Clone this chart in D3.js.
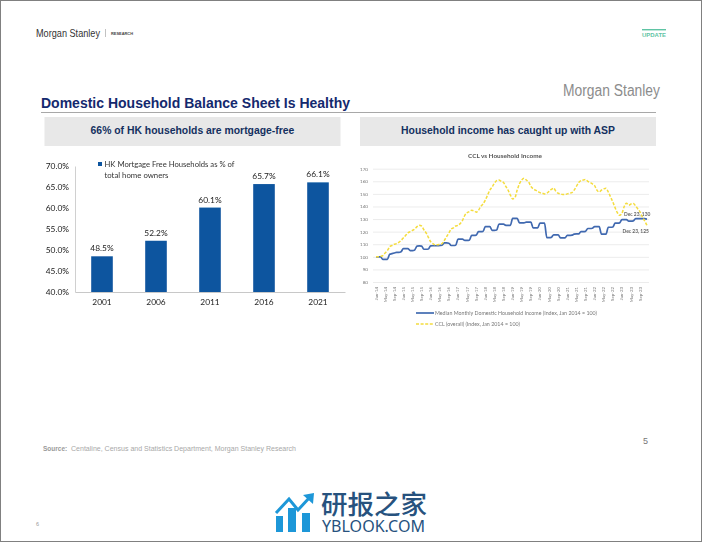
<!DOCTYPE html>
<html>
<head>
<meta charset="utf-8">
<script src="https://cdn.jsdelivr.net/npm/d3@7"></script>
<style>
  html, body { margin: 0; padding: 0; background: #fff; }
  svg { display: block; }
</style>
</head>
<body>
<div id="chart"></div>
<script>
  var outerWidth  = 702;
  var outerHeight = 542;

  // bar chart data
  var years = ["2001", "2006", "2011", "2016", "2021"];
  var mortgageFree = [48.5, 52.2, 60.1, 65.7, 66.1];
  var pctTicks = [40, 45, 50, 55, 60, 65, 70];

  // line chart data, monthly Jan-14 to Dec-23
  var monthLabels = ["Jan-14", "May-14", "Sep-14", "Jan-15", "May-15", "Sep-15", "Jan-16", "May-16", "Sep-16",
    "Jan-17", "May-17", "Sep-17", "Jan-18", "May-18", "Sep-18", "Jan-19", "May-19", "Sep-19", "Jan-20", "May-20",
    "Sep-20", "Jan-21", "May-21", "Sep-21", "Jan-22", "May-22", "Sep-22", "Jan-23", "May-23", "Sep-23"];
  var indexTicks = [80, 90, 100, 110, 120, 130, 140, 150, 160, 170];
  var income = [100, 100, 100, 98, 98, 98, 102, 102.5, 103, 103.5, 103.5, 104,
    106.5, 106.5, 106.5, 105, 105, 105.5, 108.5, 108.7, 108.5, 106, 106, 106.2,
    108.7, 108.8, 108.8, 108.8, 109, 109.2, 111, 111, 110.8, 109, 109, 109.2,
    114, 114, 114, 113, 113, 113.2, 117, 117, 117.2, 120, 120, 120.2,
    124, 124, 124, 121, 121, 121.3, 126, 126, 126, 125, 125, 125,
    130.5, 130.5, 130.5, 127, 127, 127, 127.5, 127.5, 127.5, 123, 123, 123,
    126.7, 126.7, 126.7, 115.3, 115.3, 115.5, 117.5, 117.5, 117.5, 115, 115, 115,
    117, 117, 117.2, 118, 118.2, 118.2, 120, 120, 120.2, 122.5, 122.5, 122.7,
    124, 124, 124, 118, 118, 118, 123.5, 123.5, 123.7, 126.7, 126.7, 127,
    129.6, 129.6, 129.5, 128.3, 128.3, 128.5, 130.4, 130.4, 130.4, 130.4, 130.3, 130];
  var ccl = [100, 100, 100.3, 101, 103, 105, 108, 109, 110, 110.5, 111.5, 113,
    115, 117, 119, 120, 121, 122, 124, 125, 124.5, 121.5, 119, 115.5,
    112, 110.5, 109.5, 109.5, 110, 110.5, 113, 116, 119, 122, 123, 124.5,
    125, 126.5, 129, 133, 135, 136, 137, 136.5, 135.5, 137, 140, 142,
    145, 149, 153, 155.5, 158.5, 160.5, 161, 160, 159, 156, 153, 149,
    146, 147, 153, 158, 161, 162.4, 161, 159.5, 156, 154, 153, 152,
    151, 150.5, 150, 150.5, 152, 153.5, 154.5, 152, 150.5, 150, 149.5, 149.5,
    150, 150.5, 151, 153, 156, 159, 160.5, 161, 161.4, 160, 159, 158,
    156.6, 153, 151.5, 153, 154, 154.5, 151.5, 147.5, 143.5, 139, 135, 133,
    134.5, 140, 142.5, 141, 142, 142.3, 140.5, 138, 135.5, 131.5, 128.5, 125];

  var sans = "'Liberation Sans', Arial, sans-serif";
  var narrow = "'Liberation Sans Narrow', 'Liberation Sans', sans-serif";
  var chartFont = "Lato, 'Open Sans', sans-serif";

  var svg = d3.select("#chart").append("svg")
    .attr("width",  outerWidth)
    .attr("height", outerHeight);

  // the two charts are pasted bitmaps in the original, so soften them a bit
  var blur = svg.append("defs").append("filter").attr("id", "soft");
  blur.append("feGaussianBlur").attr("stdDeviation", 0.35);

  function addText(parent, x, y, str, size, color, opts) {
    opts = opts || {};
    var t = parent.append("text")
      .attr("x", x).attr("y", y)
      .attr("font-family", opts.family || sans)
      .attr("font-size", size)
      .attr("fill", color)
      .attr("text-anchor", opts.anchor || "start")
      .attr("font-weight", opts.weight || "normal")
      .text(str);
    if (opts.len) t.attr("textLength", opts.len).attr("lengthAdjust", "spacingAndGlyphs");
    return t;
  }

  // page frame
  svg.append("rect").attr("x", 0.5).attr("y", 0.5)
    .attr("width", outerWidth - 1).attr("height", outerHeight - 1)
    .attr("fill", "#fff").attr("stroke", "#808080");

  // header
  addText(svg, 36, 36.5, "Morgan Stanley", 10.5, "#333", { family: narrow, len: 64 });
  svg.append("line").attr("x1", 105.5).attr("x2", 105.5).attr("y1", 29).attr("y2", 37).attr("stroke", "#999").attr("stroke-width", 0.6);
  addText(svg, 111, 35, "RESEARCH", 3.8, "#444", { weight: "bold", len: 22 });
  svg.append("rect").attr("x", 642).attr("y", 29).attr("width", 24).attr("height", 1.4).attr("fill", "#5fc4a4");
  addText(svg, 642, 37, "UPDATE", 6, "#5fc4a4", { weight: "bold", len: 24 });

  addText(svg, 563, 96, "Morgan Stanley", 16, "#8c8c8c", { family: narrow, len: 97 });
  addText(svg, 41, 108, "Domestic Household Balance Sheet Is Healthy", 14.2, "#14296e", { weight: "bold", len: 309 });
  svg.append("line").attr("x1", 41).attr("x2", 656).attr("y1", 112.5).attr("y2", 112.5).attr("stroke", "#a8a8a8");

  svg.append("rect").attr("x", 44.5).attr("y", 117).attr("width", 296).attr("height", 29).attr("fill", "#e8e8e8");
  svg.append("rect").attr("x", 360).attr("y", 117).attr("width", 296).attr("height", 29).attr("fill", "#e8e8e8");
  addText(svg, 192.5, 134, "66% of HK households are mortgage-free", 10.4, "#14305f", { weight: "bold", anchor: "middle" });
  addText(svg, 508, 134, "Household income has caught up with ASP", 10.4, "#14305f", { weight: "bold", anchor: "middle" });

  // --- bar chart ---
  var barG = svg.append("g").attr("filter", "url(#soft)");
  var xBar = d3.scaleBand().domain(years).range([75, 345]).paddingInner(0.6).paddingOuter(0.3);
  var yBar = d3.scaleLinear().domain([40, 70]).range([292, 166]);

  var yBarAxis = d3.axisLeft(yBar).tickValues(pctTicks)
    .tickFormat(function (d) { return d.toFixed(1) + "%"; }).tickSize(0).tickPadding(6);
  var yBarG = barG.append("g").attr("transform", "translate(75,0)").call(yBarAxis);
  yBarG.select(".domain").attr("stroke", "#d0d0d0");

  var xBarAxis = d3.axisBottom(xBar).tickSize(0).tickPadding(7);
  var xBarG = barG.append("g").attr("transform", "translate(0,292)").call(xBarAxis);
  xBarG.select(".domain").attr("stroke", "#c8c8c8");

  barG.selectAll("g text").attr("font-family", chartFont).attr("font-size", 8.4).attr("fill", "#222");

  barG.selectAll("rect.bar").data(mortgageFree).enter().append("rect")
    .attr("class", "bar")
    .attr("x", function (d, i) { return xBar(years[i]); })
    .attr("y", function (d) { return yBar(d); })
    .attr("width", xBar.bandwidth())
    .attr("height", function (d) { return yBar(40) - yBar(d); })
    .attr("fill", "#0b559f");

  barG.selectAll("text.val").data(mortgageFree).enter().append("text")
    .attr("class", "val")
    .attr("x", function (d, i) { return xBar(years[i]) + xBar.bandwidth() / 2; })
    .attr("y", function (d) { return yBar(d) - 5; })
    .attr("text-anchor", "middle")
    .attr("font-family", chartFont).attr("font-size", 8.4).attr("fill", "#222")
    .text(function (d) { return d.toFixed(1) + "%"; });

  barG.append("rect").attr("x", 98).attr("y", 162).attr("width", 4).attr("height", 4).attr("fill", "#0b559f");
  addText(barG, 104.5, 167, "HK Mortgage Free Households as % of", 8, "#333", { family: chartFont, len: 130 });
  addText(barG, 104.5, 177.5, "total home owners", 8, "#333", { family: chartFont, len: 64 });

  // --- line chart ---
  var lineG = svg.append("g").attr("filter", "url(#soft)");
  var xLine = d3.scaleLinear().domain([0, income.length - 1]).range([376, 647]);
  var yLine = d3.scaleLinear().domain([80, 170]).range([282, 168.7]);

  addText(lineG, 505, 158, "CCL vs Household Income", 6.4, "#555", { family: chartFont, anchor: "middle", weight: "bold" });

  var yLineAxis = d3.axisLeft(yLine).tickValues(indexTicks).tickSize(-(649 - 373)).tickPadding(5);
  var yLineG = lineG.append("g").attr("transform", "translate(373,0)").call(yLineAxis);
  yLineG.select(".domain").remove();
  yLineG.selectAll("line").attr("stroke", "#ececec").attr("stroke-width", 1);
  yLineG.selectAll("text").attr("font-family", chartFont).attr("font-size", 4.6).attr("fill", "#777");

  lineG.selectAll("text.month").data(monthLabels).enter().append("text")
    .attr("class", "month")
    .attr("transform", function (d, i) { return "translate(" + (xLine(i * 4) + 1.5) + ",287) rotate(-90)"; })
    .attr("text-anchor", "end")
    .attr("font-family", chartFont).attr("font-size", 4.4).attr("fill", "#777")
    .text(function (d) { return d; });

  var line = d3.line()
    .x(function (d, i) { return xLine(i); })
    .y(function (d) { return yLine(d); })
    .curve(d3.curveMonotoneX);

  lineG.append("path").datum(income).attr("d", line)
    .attr("fill", "none").attr("stroke", "#4169b0").attr("stroke-width", 1.7);
  lineG.append("path").datum(ccl).attr("d", line)
    .attr("fill", "none").attr("stroke", "#f4dc3c").attr("stroke-width", 1.5).attr("stroke-dasharray", "3,1.6");

  addText(lineG, 624, 216, "Dec 23, 130", 4.9, "#666", { family: chartFont, weight: "bold" });
  addText(lineG, 622.5, 233, "Dec 23, 125", 4.9, "#666", { family: chartFont, weight: "bold" });

  lineG.append("line").attr("x1", 416).attr("x2", 434).attr("y1", 313).attr("y2", 313).attr("stroke", "#4169b0").attr("stroke-width", 1.7);
  addText(lineG, 435, 315, "Median Monthly Domestic Household Income (Index, Jan 2014 = 100)", 4.8, "#777", { family: chartFont, len: 162 });
  lineG.append("line").attr("x1", 416).attr("x2", 434).attr("y1", 324).attr("y2", 324)
    .attr("stroke", "#f4dc3c").attr("stroke-width", 1.5).attr("stroke-dasharray", "3,1.6");
  addText(lineG, 435, 326, "CCL (overall) (Index, Jan 2014 = 100)", 4.8, "#777", { family: chartFont, len: 85 });

  // --- footer ---
  var src = addText(svg, 43, 451, "Source:", 6.5, "#9a9a9a", { weight: "bold" });
  addText(svg, 71, 451, "Centaline, Census and Statistics Department, Morgan Stanley Research", 6.5, "#a8a8a8", { len: 225 });
  addText(svg, 643, 444, "5", 9, "#777");
  addText(svg, 36, 526, "6", 5.5, "#999");

  // watermark logo
  var logo = svg.append("g");
  var logoBars = [[276, 516, 7], [288, 508, 8], [302, 513, 8]];
  logo.selectAll("rect").data(logoBars).enter().append("rect")
    .attr("x", function (d) { return d[0]; })
    .attr("y", function (d) { return d[1]; })
    .attr("width", function (d) { return d[2]; })
    .attr("height", function (d) { return 532 - d[1]; })
    .attr("fill", "#1d97d8");
  logo.append("path")
    .attr("d", "M276,513 L289,499 L298,510 L310,497")
    .attr("fill", "none").attr("stroke", "#1d97d8").attr("stroke-width", 3);
  logo.append("path").attr("d", "M303,495 L314,493 L313,504 Z").attr("fill", "#1d97d8");
  addText(svg, 321, 514, "研报之家", 26.5, "#27527e", { family: "'Noto Sans CJK SC', sans-serif", weight: "500", len: 106 });
  addText(svg, 322, 532, "YBLOOK.COM", 16.5, "#27527e", { family: "'Noto Sans', sans-serif", len: 103 });
</script>
</body>
</html>
